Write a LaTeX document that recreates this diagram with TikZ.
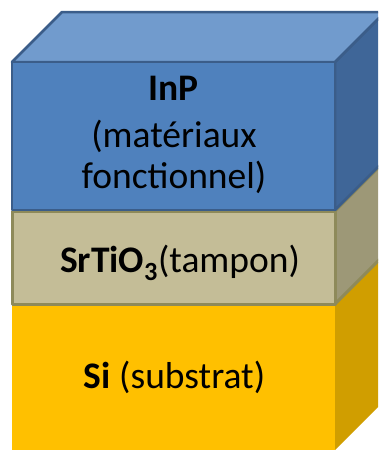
\documentclass[tikz,border=0pt]{standalone}
\usepackage{fontspec}
\setmainfont{Carlito}
\definecolor{inpfront}{HTML}{4F81BD}
\definecolor{inptop}{HTML}{719BCD}
\definecolor{inpside}{HTML}{3F6698}
\definecolor{inpline}{HTML}{3B5D89}
\definecolor{stofront}{HTML}{C4BD97}
\definecolor{stoside}{HTML}{9D9877}
\definecolor{stoline}{HTML}{8E8A5A}
\definecolor{sifront}{HTML}{FFC000}
\definecolor{siside}{HTML}{D09E00}
\begin{document}
\begin{tikzpicture}[x=1pt,y=-1pt,
  inpface/.style={draw=inpline,line width=2.5pt,line join=round},
  stoface/.style={draw=stoline,line width=3pt,line join=round},
  label/.style={font=\fontsize{37.5}{45}\selectfont,align=center,inner sep=0pt,anchor=base}]
\useasboundingbox (0,0) rectangle (378,450);
\clip (0,0) rectangle (378,450);
% substrate
\fill[sifront] (12,305) rectangle (335,452);
\fill[siside] (335,305) -- (385,255) -- (385,400) -- (335,450) -- cycle;
% buffer layer
\filldraw[stoface,fill=stoside] (335,211) -- (385,161) -- (385,254) -- (335,304) -- cycle;
\filldraw[stoface,fill=stofront] (12,211) rectangle (335,304);
% functional layer
\filldraw[inpface,fill=inpside] (335,62) -- (385,12) -- (385,160) -- (335,210) -- cycle;
\filldraw[inpface,fill=inptop] (12,62) -- (62,12) -- (385,12) -- (335,62) -- cycle;
\filldraw[inpface,fill=inpfront] (12,62) rectangle (335,210);
% labels
\node[label] (inp) at (173.5,100) {\textbf{InP}};
\node[label] (inpsub) at (174,147) {(matériaux};
\node[label] (inpsub2) at (174,188) {fonctionnel)};
\node[label] (sto) at (180,272) {\textbf{SrTiO\textsubscript{3}}(tampon)};
\node[label] (si) at (174.5,388) {\textbf{Si} (substrat)};
\end{tikzpicture}
\end{document}
